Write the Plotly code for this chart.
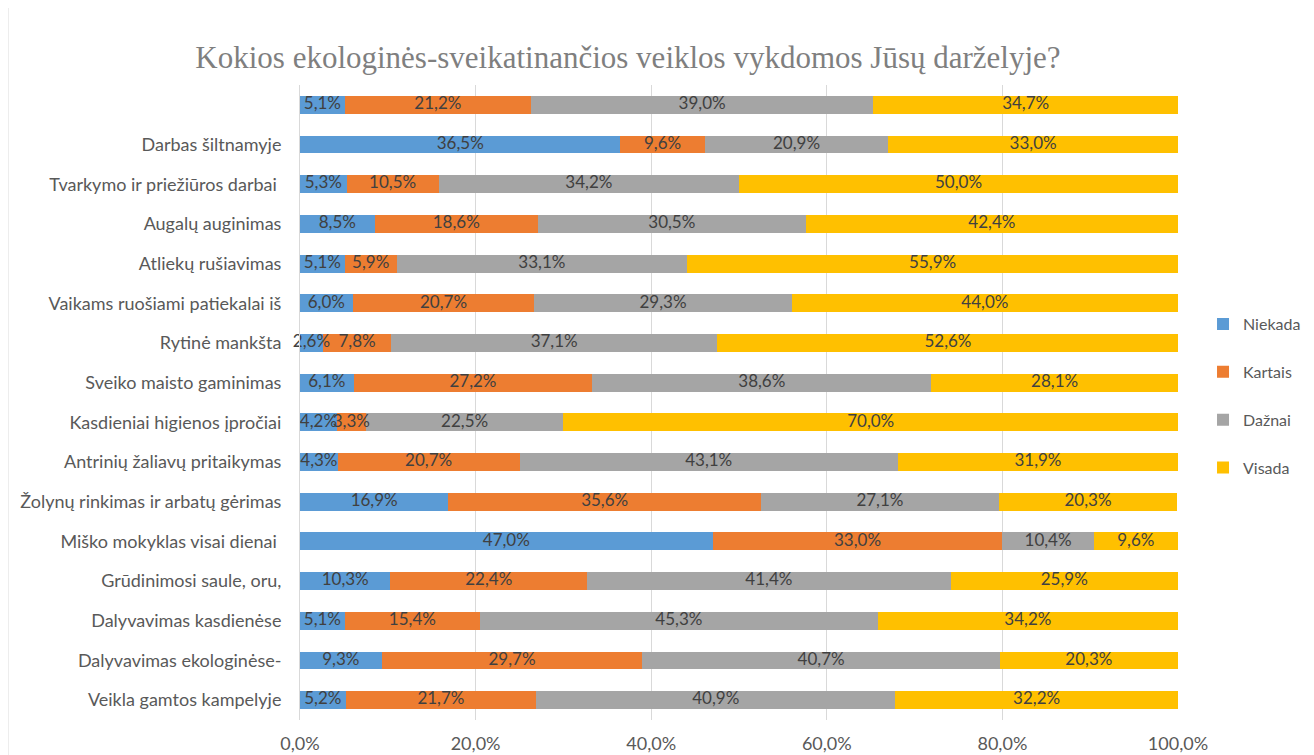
import plotly.graph_objects as go

categories = [
    " ",
    "Darbas šiltnamyje",
    "Tvarkymo ir priežiūros darbai ",
    "Augalų auginimas",
    "Atliekų rušiavimas",
    "Vaikams ruošiami patiekalai iš",
    "Rytinė mankšta",
    "Sveiko maisto gaminimas",
    "Kasdieniai higienos įpročiai",
    "Antrinių žaliavų pritaikymas",
    "Žolynų rinkimas ir arbatų gėrimas",
    "Miško mokyklas visai dienai ",
    "Grūdinimosi saule, oru,",
    "Dalyvavimas kasdienėse",
    "Dalyvavimas ekologinėse-",
    "Veikla gamtos kampelyje",
]
niekada = [5.1, 36.5, 5.3, 8.5, 5.1, 6.0, 2.6, 6.1, 4.2, 4.3, 16.9, 47.0, 10.3, 5.1, 9.3, 5.2]
kartais = [21.2, 9.6, 10.5, 18.6, 5.9, 20.7, 7.8, 27.2, 3.3, 20.7, 35.6, 33.0, 22.4, 15.4, 29.7, 21.7]
daznai = [39.0, 20.9, 34.2, 30.5, 33.1, 29.3, 37.1, 38.6, 22.5, 43.1, 27.1, 10.4, 41.4, 45.3, 40.7, 40.9]
visada = [34.7, 33.0, 50.0, 42.4, 55.9, 44.0, 52.6, 28.1, 70.0, 31.9, 20.3, 9.6, 25.9, 34.2, 20.3, 32.2]

series = [
    ("Niekada", niekada, "#5B9BD5"),
    ("Kartais", kartais, "#ED7D31"),
    ("Dažnai", daznai, "#A5A5A5"),
    ("Visada", visada, "#FFC000"),
]
tick_vals = [0, 20, 40, 60, 80, 100]
tick_text = ["0,0%", "20,0%", "40,0%", "60,0%", "80,0%", "100,0%"]

font_family = "Lato, 'Open Sans', sans-serif"

fig = go.Figure()
for name, vals, color in series:
    fig.add_trace(go.Bar(
        y=categories, x=vals, name=name, orientation="h",
        marker=dict(color=color, line=dict(width=0)),
        legendgroup=name, hoverinfo="x+y+name",
    ))

# data labels drawn above all bars (as in the original), centred on each segment
start = [0.0] * len(categories)
for name, vals, color in series:
    mids = [s + v / 2 for s, v in zip(start, vals)]
    labels = [f"{v:.1f}%".replace(".", ",") for v in vals]
    fig.add_trace(go.Scatter(
        x=mids, y=categories, mode="text", text=labels,
        textposition="middle center",
        textfont=dict(color="#404040", size=17, family=font_family),
        showlegend=False, hoverinfo="skip", cliponaxis=False,
    ))
    start = [s + v for s, v in zip(start, vals)]

fig.update_layout(
    barmode="stack",
    bargap=0.55,
    separators=", ",
    width=1306, height=747,
    paper_bgcolor="white", plot_bgcolor="white",
    margin=dict(l=292, r=136, t=77, b=35, autoexpand=False),
    font=dict(family=font_family, size=17, color="#595959"),
    title=dict(
        text="Kokios ekologinės-sveikatinančios veiklos vykdomos Jūsų darželyje?",
        x=0.4747, xanchor="center", y=0.934, yanchor="middle",
        font=dict(family="'Liberation Serif', 'Times New Roman', serif", size=31, color="#7f7f7f"),
    ),
    legend=dict(
        x=1.0285, xanchor="left", y=0.51, yanchor="middle",
        traceorder="grouped", tracegroupgap=24,
        font=dict(size=16, color="#595959"),
        itemwidth=30,
    ),
    xaxis=dict(
        range=[0, 100], tickmode="array", tickvals=tick_vals, ticktext=tick_text,
        showgrid=True, gridcolor="#d9d9d9", gridwidth=1,
        zeroline=False, showline=False, ticks="",
        tickfont=dict(size=18, color="#595959"),
        ticklabelstandoff=11,
        automargin=False,
    ),
    yaxis=dict(
        range=[len(categories) - 0.5, -0.5],
        showline=True, linecolor="#d9d9d9", linewidth=1,
        showgrid=False, ticks="", ticklabelstandoff=14,
        tickfont=dict(size=18, color="#595959"),
        automargin=False,
    ),
    shapes=[dict(type="line", xref="paper", yref="paper",
                 x0=-0.3326, x1=-0.3326, y0=-0.06, y1=1.14,
                 line=dict(color="#d9d9d9", width=1))],
)

fig.write_html("out.html")
